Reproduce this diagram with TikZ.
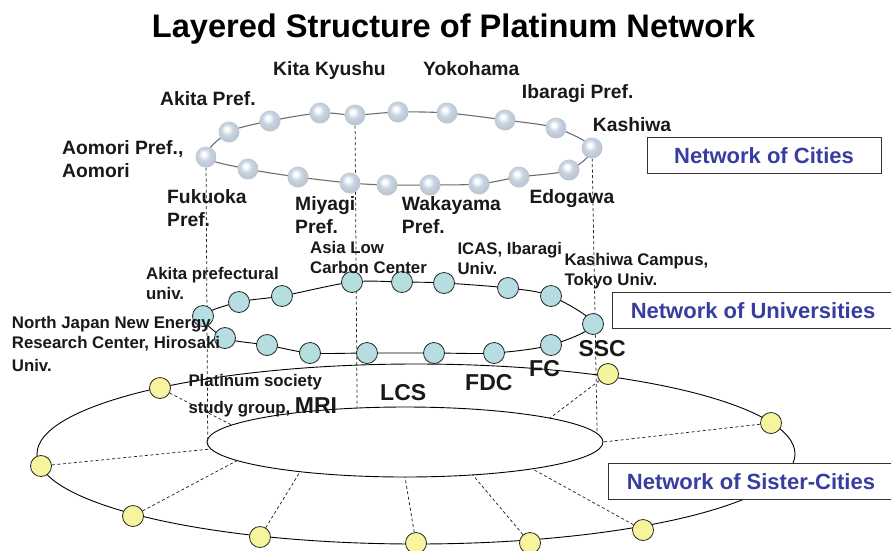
\documentclass[tikz,border=0pt]{standalone}
\usepackage{fontspec}
\setmainfont{Liberation Sans}
\usetikzlibrary{calc}
\definecolor{cityblue}{RGB}{200,212,226}
\definecolor{univfill}{RGB}{182,222,225}
\definecolor{sisfill}{RGB}{247,244,158}
\definecolor{netblue}{RGB}{56,62,160}
\definecolor{ringgray}{RGB}{110,110,110}
\pgfdeclarelayer{back}
\pgfdeclarelayer{bg}
\pgfsetlayers{back,bg,main}
\pgfdeclareradialshading{cityball}{\pgfqpoint{-6bp}{8bp}}{color(0bp)=(white); color(4bp)=(white); color(14bp)=(cityblue); color(24bp)=(cityblue!85!gray); color(50bp)=(cityblue!85!gray)}
\tikzset{
  cityb/.style={circle, minimum size=21pt, inner sep=0pt, shade, shading=cityball},
  univb/.style={circle, draw=black!85, line width=0.8pt, fill=univfill, minimum size=21pt, inner sep=0pt},
  sisb/.style={circle, draw=black!85, line width=0.8pt, fill=sisfill, minimum size=21pt, inner sep=0pt},
  citylab/.style={font=\bfseries\fontsize{19.3}{23}\selectfont, anchor=base west, inner sep=0pt, text=black!90},
  univlab/.style={font=\bfseries\fontsize{16.8}{20.5}\selectfont, anchor=base west, inner sep=0pt, text=black!90},
  biglab/.style={font=\bfseries\fontsize{23}{23}\selectfont, anchor=base west, inner sep=0pt, text=black!90},
  netbox/.style={draw=black!80, fill=white, line width=1pt, font=\bfseries\fontsize{22}{22}\selectfont, text=netblue, minimum height=36pt, inner sep=0pt, text height=16pt, text depth=0pt},
  ringline/.style={line width=0.9pt, black},
  spokeline/.style={dashed, dash pattern=on 3pt off 2.5pt, line width=0.75pt, black!85}
}
\begin{document}
\begin{tikzpicture}[x=1pt,y=-1pt]
\useasboundingbox (0,0) rectangle (891,550);
\begin{pgfonlayer}{back}
  \fill[white] (0,0) rectangle (891,550);
\end{pgfonlayer}
\clip (0,0) rectangle (891,550);

% title
\node[font=\bfseries\fontsize{32.6}{34}\selectfont, anchor=base, inner sep=0pt] (title) at (453.5,37) {Layered Structure of Platinum Network};

% ---- city balls
\node[cityb] (c1) at (206,157) {};
\node[cityb] (c2) at (229,132) {};
\node[cityb] (c3) at (270,121) {};
\node[cityb] (c4) at (320,113) {};
\node[cityb] (c5) at (355,115) {};
\node[cityb] (c6) at (398,112) {};
\node[cityb] (c7) at (447,113) {};
\node[cityb] (c8) at (505,120) {};
\node[cityb] (c9) at (556,128) {};
\node[cityb] (c10) at (592,148) {};
\node[cityb] (c11) at (569,170) {};
\node[cityb] (c12) at (519,177) {};
\node[cityb] (c13) at (479,184) {};
\node[cityb] (c14) at (430,185) {};
\node[cityb] (c15) at (387,185) {};
\node[cityb] (c16) at (350,183) {};
\node[cityb] (c17) at (298,177) {};
\node[cityb] (c18) at (248,169) {};

% ---- university balls
\node[univb] (u1) at (203,316) {};
\node[univb] (u2) at (239,302) {};
\node[univb] (u3) at (282,296) {};
\node[univb] (u4) at (352,282) {};
\node[univb] (u5) at (402,282) {};
\node[univb] (u6) at (444,283) {};
\node[univb] (u7) at (508,288) {};
\node[univb] (u8) at (551,296) {};
\node[univb] (u9) at (593,324) {};
\node[univb] (u10) at (551,345) {};
\node[univb] (u11) at (494,353) {};
\node[univb] (u12) at (434,353) {};
\node[univb] (u13) at (367,353) {};
\node[univb] (u14) at (310,353) {};
\node[univb] (u15) at (267,345) {};
\node[univb] (u16) at (225,338) {};

% ---- sister city balls
\node[sisb] (y1) at (608,374) {};
\node[sisb] (y2) at (771,423) {};
\node[sisb] (y3) at (643,530) {};
\node[sisb] (y4) at (530,543) {};
\node[sisb] (y5) at (416,543) {};
\node[sisb] (y6) at (260,537) {};
\node[sisb] (y7) at (133,516) {};
\node[sisb] (y8) at (41,466) {};
\node[sisb] (y9) at (160,388) {};

% ---- ellipse centres and points on the inner ellipse
\coordinate (ic) at (405,442);
\coordinate (oc) at (416,454);
\path (ic) ++(43:198pt and 35pt) coordinate (s1);
\path (ic) ++(0:198pt and 35pt) coordinate (s2);
\path (ic) ++(310:198pt and 35pt) coordinate (s3);
\path (ic) ++(290:198pt and 35pt) coordinate (s4);
\path (ic) ++(270:198pt and 35pt) coordinate (s5);
\path (ic) ++(238:198pt and 35pt) coordinate (s6);
\path (ic) ++(212:198pt and 35pt) coordinate (s7);
\path (ic) ++(191.5:198pt and 35pt) coordinate (s8);
\path (ic) ++(151:198pt and 35pt) coordinate (s9);
\path (ic) ++(185:198pt and 35pt) coordinate (v1);
\path (ic) ++(104:198pt and 35pt) coordinate (v2);
\path (ic) ++(14:198pt and 35pt) coordinate (v3);

\begin{pgfonlayer}{bg}
  \draw[ringgray, line width=1.1pt] plot[smooth cycle] coordinates {(c1.center) (c2.center) (c3.center) (c4.center) (c5.center) (c6.center) (c7.center) (c8.center) (c9.center) (c10.center) (c11.center) (c12.center) (c13.center) (c14.center) (c15.center) (c16.center) (c17.center) (c18.center)};
  \draw[ringline] plot[smooth cycle] coordinates {(u1.center) (u2.center) (u3.center) (u4.center) (u5.center) (u6.center) (u7.center) (u8.center) (u9.center) (u10.center) (u11.center) (u12.center) (u13.center) (u14.center) (u15.center) (u16.center)};
  \draw[ringline] (oc) ellipse [x radius=379pt, y radius=90pt];
  \draw[ringline] (ic) ellipse [x radius=198pt, y radius=35pt];
  \draw[spokeline] (y1) -- (s1);
  \draw[spokeline] (y2) -- (s2);
  \draw[spokeline] (y3) -- (s3);
  \draw[spokeline] (y4) -- (s4);
  \draw[spokeline] (y5) -- (s5);
  \draw[spokeline] (y6) -- (s6);
  \draw[spokeline] (y7) -- (s7);
  \draw[spokeline] (y8) -- (s8);
  \draw[spokeline] (y9) -- (s9);
  \draw[spokeline] (c1) -- (v1);
  \draw[spokeline] (c5) -- (v2);
  \draw[spokeline] (c10) -- (v3);
\end{pgfonlayer}

% ---- city labels
\node[citylab] (lkita) at (273,75.7) {Kita Kyushu};
\node[citylab] (lyoko) at (423,75.5) {Yokohama};
\node[citylab] (lakita) at (160,105) {Akita Pref.};
\node[citylab] (libar) at (521.7,98.3) {Ibaragi Pref.};
\node[citylab] (lkash) at (592.7,131.7) {Kashiwa};
\node[citylab] (laom) at (62,154) {\vtop{\hbox{Aomori Pref.,}\hbox{Aomori}}};
\node[citylab] (lfuk) at (167,203.3) {\vtop{\hbox{Fukuoka}\hbox{Pref.}}};
\node[citylab] (lmiy) at (295,210.3) {\vtop{\hbox{Miyagi}\hbox{Pref.}}};
\node[citylab] (lwak) at (401.7,210.3) {\vtop{\hbox{Wakayama}\hbox{Pref.}}};
\node[citylab] (ledo) at (529.3,203.3) {Edogawa};

% ---- university labels
\node[univlab] (lasia) at (310,253.3) {\vtop{\hbox{Asia Low}\hbox{Carbon Center}}};
\node[univlab] (licas) at (457.3,254) {\vtop{\hbox{ICAS, Ibaragi}\hbox{Univ.}}};
\node[univlab] (lkcam) at (564.3,265) {\vtop{\hbox{Kashiwa Campus,}\hbox{Tokyo Univ.}}};
\node[univlab] (lakpu) at (146,279.3) {\vtop{\hbox{Akita prefectural}\hbox{univ.}}};
\node[univlab] (lnj) at (11.7,328.3) {\vtop{\hbox{North Japan New Energy}\hbox{Research Center, Hirosaki}\vskip2pt\hbox{Univ.}}};
\node[univlab] (lplat) at (188.3,386) {\vtop{\hbox{Platinum society}\vskip7pt\hbox{study group, {\fontsize{23}{23}\selectfont MRI}}}};

% ---- big labels
\node[biglab] (llcs) at (380,400) {LCS};
\node[biglab] (lfdc) at (465,390.7) {FDC};
\node[biglab] (lfc) at (529,376.7) {FC};
\node[biglab] (lssc) at (578.3,356.7) {SSC};

% ---- layer boxes
\node[netbox, minimum width=234pt] (ncity) at (764,155) {Network of Cities};
\node[netbox, minimum width=282pt] (nuniv) at (753,310) {Network of Universities};
\node[netbox, minimum width=286pt] (nsis) at (751,481) {Network of Sister-Cities};
\end{tikzpicture}
\end{document}
